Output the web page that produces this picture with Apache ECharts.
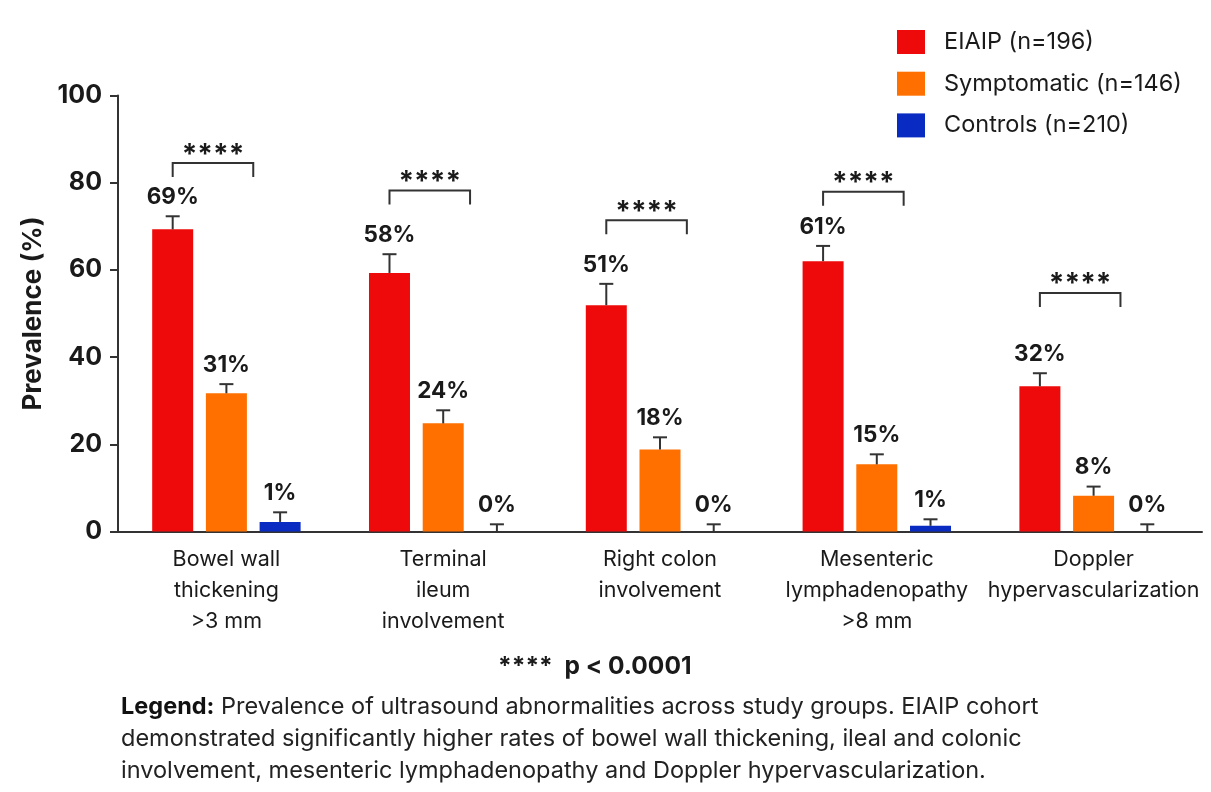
<!DOCTYPE html>
<html>
<head>
<meta charset="utf-8">
<script src="https://cdn.jsdelivr.net/npm/echarts@6/dist/echarts.min.js"></script>
<style>
  html, body { margin: 0; padding: 0; background: #ffffff; }
  #chart { width: 1211px; height: 792px; }
</style>
</head>
<body>
<div id="chart"></div>
<script>
// ---- data ----
const categories = [
  'Bowel wall\nthickening\n>3 mm',
  'Terminal\nileum\ninvolvement',
  'Right colon\ninvolvement',
  'Mesenteric\nlymphadenopathy\n>8 mm',
  'Doppler\nhypervascularization'
];
const seriesNames = ['EIAIP (n=196)', 'Symptomatic (n=146)', 'Controls (n=210)'];

const eiaipValues = [69.3, 59.3, 51.9, 62.0, 33.3];
const eiaipErrTop = [72.3, 63.6, 56.8, 65.5, 36.3];
const eiaipLabels = ['69%', '58%', '51%', '61%', '32%'];

const sympValues = [31.7, 24.8, 18.8, 15.4, 8.2];
const sympErrTop = [33.8, 27.8, 21.6, 17.7, 10.3];
const sympLabels = ['31%', '24%', '18%', '15%', '8%'];

const ctrlValues = [2.2, 0, 0, 1.3, 0];
const ctrlErrTop = [4.4, 1.65, 1.65, 2.8, 1.65];
const ctrlLabels = ['1%', '0%', '0%', '1%', '0%'];

const bracketLevels = [84.5, 78.2, 71.4, 77.9, 54.7];
const bracketText = '****';

const yMin = 0, yMax = 100, yInterval = 20;
const yAxisTitle = 'Prevalence (%)';
const footnoteText = '****  p < 0.0001';
const captionLines = [
  '{b|Legend:} Prevalence of ultrasound abnormalities across study groups. EIAIP cohort',
  'demonstrated significantly higher rates of bowel wall thickening, ileal and colonic',
  'involvement, mesenteric lymphadenopathy and Doppler hypervascularization.'
];

// ---- styles ----
const colors = ['#EE0A0A', '#FF7000', '#0A2BC2'];
const FONT = 'Inter, "Liberation Sans", Arial, sans-serif';
const INK = '#1a1a1a';
const BAR_W = 41;
const BAR_GAP = 0.31;
const STEP = BAR_W * (1 + BAR_GAP);

function errRender(g, labels) {
  return function (params, api) {
    const i = api.value(0);
    const base = api.coord([i, api.value(1)]);
    const top = api.coord([i, api.value(2)]);
    const x = base[0] + (g - 1) * STEP;
    return {
      type: 'group',
      children: [
        { type: 'line', shape: { x1: x, y1: base[1], x2: x, y2: top[1] }, style: { stroke: '#333', lineWidth: 2 } },
        { type: 'line', shape: { x1: x - 7, y1: top[1], x2: x + 7, y2: top[1] }, style: { stroke: '#333', lineWidth: 2 } },
        { type: 'text', style: { text: labels[i], x: x, y: top[1] - 19, align: 'center', verticalAlign: 'middle',
            font: 'bold 22.5px ' + FONT, fill: INK } }
      ]
    };
  };
}

function bracketRender(params, api) {
  const i = api.value(0);
  const p = api.coord([i, api.value(1)]);
  const x1 = p[0] - STEP;
  const x2 = p[0] + STEP / 2;
  const y = p[1];
  return {
    type: 'group',
    children: [
      { type: 'polyline', shape: { points: [[x1, y + 14], [x1, y], [x2, y], [x2, y + 14]] },
        style: { stroke: '#333', lineWidth: 2, fill: 'none' } },
      { type: 'text', style: { text: bracketText, x: (x1 + x2) / 2, y: y - 8, align: 'center', verticalAlign: 'middle',
          font: 'bold 28px ' + FONT, fill: INK } }
    ]
  };
}

const chart = echarts.init(document.getElementById('chart'));
chart.setOption({
  backgroundColor: '#ffffff',
  animation: false,
  title: [
    { text: footnoteText, left: 493, top: 649,
      textStyle: { fontFamily: FONT, fontSize: 24.5, fontWeight: 'bold', color: INK } },
    { text: captionLines.join('\n'), left: 116, top: 686,
      textStyle: { fontFamily: FONT, fontSize: 23.5, fontWeight: 'normal', color: '#222', lineHeight: 32,
        rich: { b: { fontFamily: FONT, fontSize: 23.5, fontWeight: 'bold', color: '#111', lineHeight: 32 } } } }
  ],
  legend: {
    orient: 'vertical', left: 892, top: 25,
    itemWidth: 28, itemHeight: 24, itemGap: 17.7,
    icon: 'rect',
    data: seriesNames,
    textStyle: { fontFamily: FONT, fontSize: 23.5, color: INK, padding: [0, 0, 0, 14] }
  },
  grid: { left: 118, right: 9, top: 95.5, bottom: 260.5 },
  xAxis: {
    type: 'category', data: categories,
    axisLine: { lineStyle: { color: '#333', width: 2 } },
    axisTick: { alignWithLabel: true, length: 8, lineStyle: { color: '#333', width: 2 } },
    axisLabel: { fontFamily: FONT, fontSize: 21.5, color: INK, lineHeight: 31, margin: 13, interval: 0 }
  },
  yAxis: {
    type: 'value', min: yMin, max: yMax, interval: yInterval,
    name: yAxisTitle, nameLocation: 'middle', nameRotate: 90, nameGap: 72,
    nameTextStyle: { fontFamily: FONT, fontSize: 26, fontWeight: 'bold', color: INK },
    axisLine: { show: true, lineStyle: { color: '#333', width: 2 } },
    axisTick: { show: true, length: 8, lineStyle: { color: '#333', width: 2 } },
    splitLine: { show: false },
    axisLabel: { fontFamily: FONT, fontSize: 25, fontWeight: 'bold', color: INK, margin: 16 }
  },
  series: [
    { name: seriesNames[0], type: 'bar', data: eiaipValues, barWidth: BAR_W, barGap: (BAR_GAP * 100) + '%',
      itemStyle: { color: colors[0] } },
    { name: seriesNames[1], type: 'bar', data: sympValues, barWidth: BAR_W, barGap: (BAR_GAP * 100) + '%',
      itemStyle: { color: colors[1] } },
    { name: seriesNames[2], type: 'bar', data: ctrlValues, barWidth: BAR_W, barGap: (BAR_GAP * 100) + '%',
      itemStyle: { color: colors[2] } },
    { type: 'custom', renderItem: errRender(0, eiaipLabels), z: 5,
      data: eiaipValues.map((v, i) => [i, v, eiaipErrTop[i]]) },
    { type: 'custom', renderItem: errRender(1, sympLabels), z: 5,
      data: sympValues.map((v, i) => [i, v, sympErrTop[i]]) },
    { type: 'custom', renderItem: errRender(2, ctrlLabels), z: 5,
      data: ctrlValues.map((v, i) => [i, v, ctrlErrTop[i]]) },
    { type: 'custom', renderItem: bracketRender, z: 5,
      data: bracketLevels.map((v, i) => [i, v]) }
  ]
});
</script>
</body>
</html>
